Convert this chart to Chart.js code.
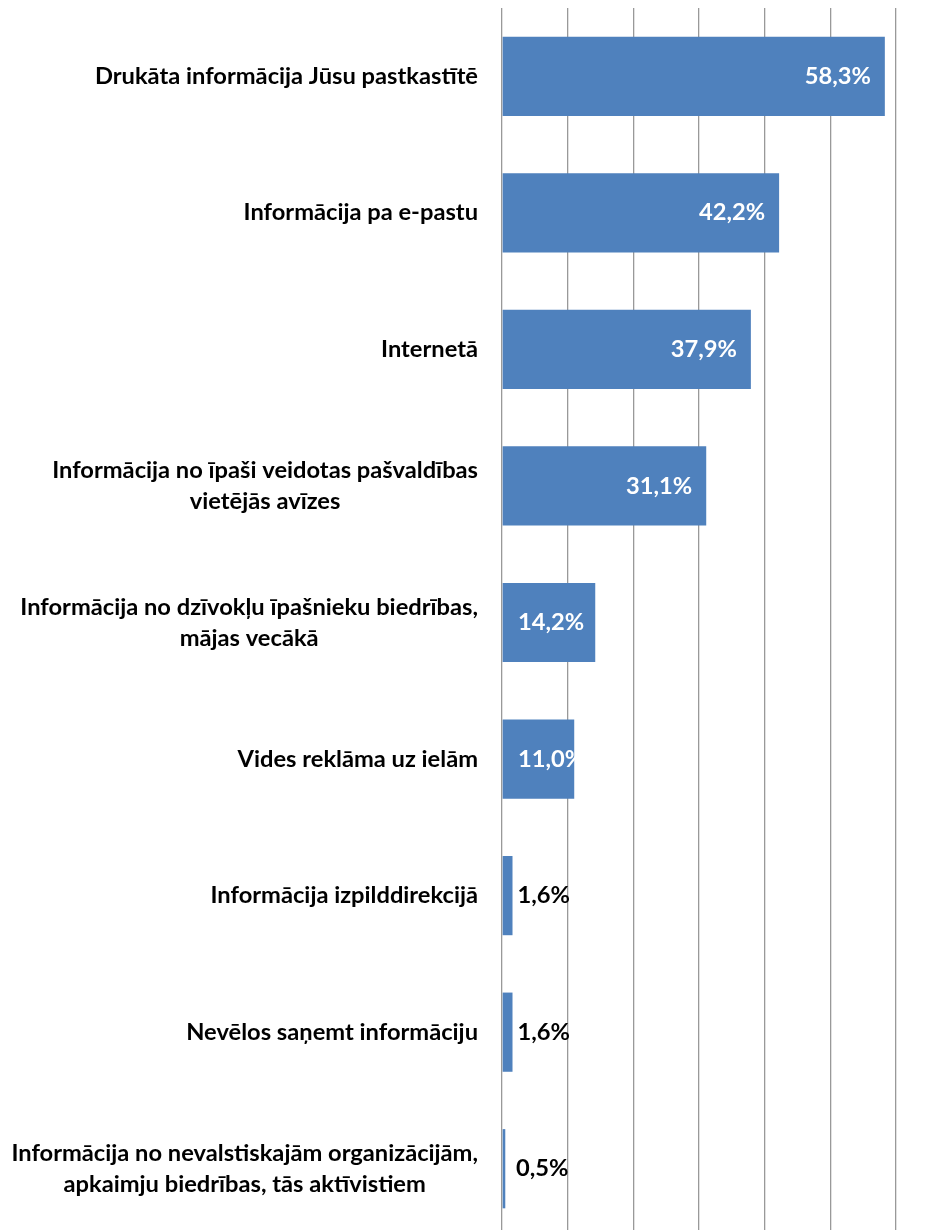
<!DOCTYPE html>
<html>
<head>
<meta charset="utf-8">
<script src="https://cdn.jsdelivr.net/npm/chart.js@4.4.1/dist/chart.umd.min.js"></script>
<style>
  html, body { margin: 0; padding: 0; background: #fff; overflow: hidden; }
  #wrap { width: 948px; height: 1240px; }
</style>
</head>
<body>
<div id="wrap"><canvas id="barChart" width="948" height="1240"></canvas></div>
<script>
// categories (multi-line ones split into lines)
const categories = [
  ['Drukāta informācija Jūsu pastkastītē'],
  ['Informācija pa e-pastu'],
  ['Internetā'],
  ['Informācija no īpaši veidotas pašvaldības', 'vietējās avīzes'],
  ['Informācija no dzīvokļu īpašnieku biedrības,', 'mājas vecākā'],
  ['Vides reklāma uz ielām'],
  ['Informācija izpilddirekcijā'],
  ['Nevēlos saņemt informāciju'],
  ['Informācija no nevalstiskajām organizācijām,', 'apkaimju biedrības, tās aktīvistiem']
];
const values = [58.3, 42.2, 37.9, 31.1, 14.2, 11.0, 1.6, 1.6, 0.5];
const xTicks = [0, 10, 20, 30, 40, 50, 60];

const FONT = 'bold 23.7px Lato, "Open Sans", sans-serif';
const fmt = v => v.toFixed(1).replace('.', ',') + '%';

// category labels: block centred, right edge next to the axis
const categoryLabels = {
  id: 'categoryLabels',
  afterDraw(chart) {
    const ctx = chart.ctx;
    const y = chart.scales.y;
    const right = chart.chartArea.left - 24;
    const lineH = 31;
    ctx.save();
    ctx.font = FONT;
    ctx.fillStyle = '#000';
    ctx.textAlign = 'center';
    ctx.textBaseline = 'middle';
    categories.forEach((lines, i) => {
      const cy = y.getPixelForValue(i);
      const w = Math.max(...lines.map(l => ctx.measureText(l).width));
      const cx = right - w / 2;
      const top = cy - (lines.length - 1) * lineH / 2;
      lines.forEach((l, j) => ctx.fillText(l, cx, top + j * lineH));
    });
    ctx.restore();
  }
};

// value labels: inside end (white) for big bars, outside (black) for small
const valueLabels = {
  id: 'valueLabels',
  afterDatasetsDraw(chart) {
    const ctx = chart.ctx;
    const meta = chart.getDatasetMeta(0);
    const x0 = chart.scales.x.getPixelForValue(0);
    ctx.save();
    ctx.font = FONT;
    ctx.textBaseline = 'middle';
    ctx.textAlign = 'left';
    meta.data.forEach((bar, i) => {
      const txt = fmt(values[i]);
      const w = ctx.measureText(txt).width;
      if (values[i] >= 10) {
        ctx.fillStyle = '#fff';
        const tx = Math.max(bar.x - 14 - w, x0 + 16);
        ctx.fillText(txt, tx, bar.y);
      } else {
        ctx.fillStyle = '#000';
        ctx.fillText(txt, Math.max(bar.x + 5, x0 + 14), bar.y);
      }
    });
    ctx.restore();
  }
};

new Chart(document.getElementById('barChart').getContext('2d'), {
  type: 'bar',
  data: {
    labels: categories.map(c => c.join(' ')),
    datasets: [{
      data: values,
      backgroundColor: '#4f81bd',
      borderWidth: 0,
      categoryPercentage: 1,
      barPercentage: 0.58
    }]
  },
  options: {
    indexAxis: 'y',
    responsive: false,
    animation: false,
    layout: { padding: { top: 8, right: 52, bottom: 3, left: 0 } },
    plugins: { legend: { display: false }, tooltip: { enabled: false } },
    scales: {
      x: {
        min: 0,
        max: 60,
        afterBuildTicks: s => { s.ticks = xTicks.map(v => ({ value: v })); },
        ticks: { display: false },
        grid: { color: '#999999', lineWidth: 1.3, drawTicks: false },
        border: { display: false }
      },
      y: {
        ticks: { display: false },
        grid: { display: false },
        border: { display: false },
        afterFit: s => { s.width = 502; }
      }
    }
  },
  plugins: [categoryLabels, valueLabels]
});
</script>
</body>
</html>
